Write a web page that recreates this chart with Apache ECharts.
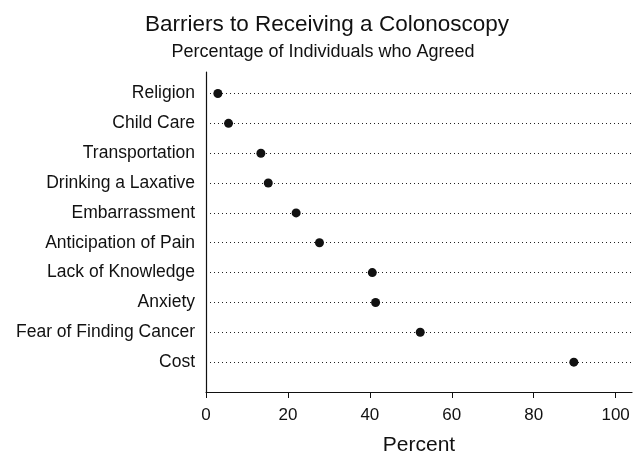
<!DOCTYPE html>
<html>
<head>
<meta charset="utf-8">
<script src="https://cdn.jsdelivr.net/npm/echarts@6/dist/echarts.min.js"></script>
<style>
  html, body { margin: 0; padding: 0; background: #fff; }
  #main { width: 633px; height: 452px; }
</style>
</head>
<body>
<div id="main"></div>
<script>
  // rows from bottom (y = 1) to top (y = 10)
  var barriers = ['Cost', 'Fear of Finding Cancer', 'Anxiety', 'Lack of Knowledge',
    'Anticipation of Pain', 'Embarrassment', 'Drinking a Laxative', 'Transportation',
    'Child Care', 'Religion'];
  var percents = [89.8, 52.3, 41.4, 40.6, 27.7, 22.0, 15.2, 13.4, 5.5, 2.9];
  var xTicks = [0, 20, 40, 60, 80, 100];

  var points = [];
  for (var i = 0; i < barriers.length; i++) {
    points.push([percents[i], i + 1]);
  }

  var font = 'Liberation Sans, Arial, sans-serif';
  var chart = echarts.init(document.getElementById('main'));
  chart.setOption({
    animation: false,
    title: [{
      text: 'Barriers to Receiving a Colonoscopy',
      left: 322, top: 8, textAlign: 'center',
      textStyle: { fontFamily: font, fontSize: 22.5, fontWeight: 'normal', color: '#111' }
    }, {
      text: 'Percentage of Individuals who Agreed',
      left: 318, top: 38, textAlign: 'center',
      textStyle: { fontFamily: font, fontSize: 18, fontWeight: 'normal', color: '#111' }
    }],
    grid: { left: 206, right: 1, top: 72, bottom: 60, containLabel: false, outerBoundsMode: 'none' },
    xAxis: {
      type: 'value', min: 0, max: 104, interval: 20,
      name: 'Percent', nameLocation: 'middle', nameGap: 43,
      nameTextStyle: { fontFamily: font, fontSize: 21, color: '#111' },
      axisLine: { show: true, lineStyle: { color: '#111', width: 1.2 } },
      axisTick: { show: true, length: 6, customValues: xTicks, lineStyle: { color: '#111' } },
      axisLabel: {
        fontFamily: font, fontSize: 17, color: '#111', margin: 15,
        customValues: xTicks
      },
      splitLine: { show: false }
    },
    yAxis: {
      type: 'value', min: 0, max: 10.72, interval: 1,
      axisLine: { show: true, onZero: false, lineStyle: { color: '#111', width: 1.2 } },
      axisTick: { show: false },
      axisLabel: {
        fontFamily: font, fontSize: 17.5, color: '#111', margin: 11,
        showMaxLabel: false,
        formatter: function (v) {
          var k = Math.round(v);
          return (k >= 1 && k <= barriers.length && Math.abs(v - k) < 1e-6) ? barriers[k - 1] : '';
        }
      },
      splitLine: {
        show: true,
        showMaxLine: false,
        lineStyle: { color: '#222', width: 1, type: [1, 3] }
      }
    },
    series: [{
      type: 'scatter',
      data: points,
      symbol: 'circle',
      symbolSize: 9,
      itemStyle: { color: '#111', opacity: 1 }
    }]
  });
</script>
</body>
</html>
